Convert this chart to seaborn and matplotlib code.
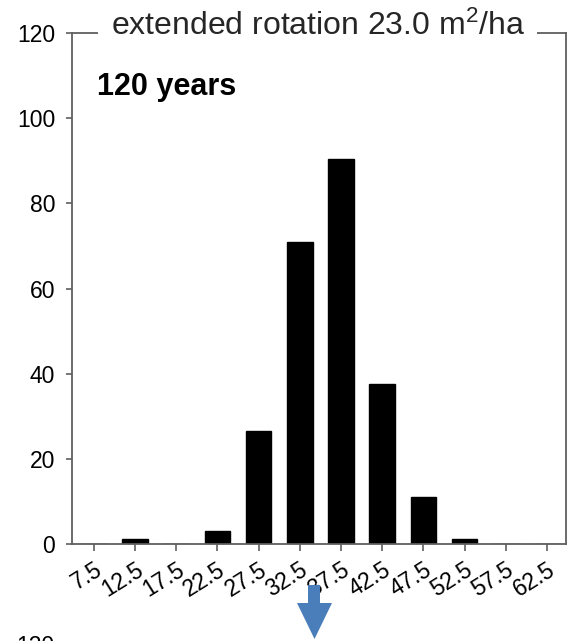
import matplotlib
matplotlib.use("Agg")
import matplotlib.pyplot as plt
from matplotlib.patches import Polygon
from matplotlib.transforms import offset_copy
import seaborn as sns
import pandas as pd

# diameter classes (cm) and number of stems per class
diameter_classes = ["7.5", "12.5", "17.5", "22.5", "27.5", "32.5",
                    "37.5", "42.5", "47.5", "52.5", "57.5", "62.5"]
stem_counts = [0, 1.2, 0, 3, 26.5, 71, 90.5, 37.5, 11, 1.2, 0, 0]
y_ticks = [0, 20, 40, 60, 80, 100, 120]

sns.set_style("ticks")
plt.rcParams["font.family"] = ["Liberation Sans", "DejaVu Sans"]
plt.rcParams["mathtext.fontset"] = "custom"
plt.rcParams["mathtext.rm"] = "Liberation Sans"
plt.rcParams["mathtext.default"] = "regular"

df = pd.DataFrame({"diameter": diameter_classes, "stems": stem_counts})

fig = plt.figure(figsize=(5.67, 6.41), dpi=100)
ax = fig.add_axes([0.127, 0.151, 0.871, 0.7975])

sns.barplot(data=df, x="diameter", y="stems", order=diameter_classes,
            color="black", saturation=1, width=0.62, ax=ax)
for p in ax.patches:
    p.set_edgecolor("black")
    p.set_facecolor("black")

ax.set_xlim(-0.53, 11.46)
ax.set_ylim(0, 120)
ax.set_yticks(y_ticks)
ax.set_xlabel("")
ax.set_ylabel("")

for s in ax.spines.values():
    s.set_color("#5f5f5f")
    s.set_linewidth(1.3)
    s.set_visible(True)

ax.tick_params(axis="y", direction="out", length=4, width=1.2, color="#5f5f5f",
               labelsize=16.5, pad=8, labelcolor="black")
ax.tick_params(axis="x", direction="out", length=5, width=1.2, color="#5f5f5f",
               labelsize=16.5, pad=5, labelcolor="black")
for lab in ax.get_xticklabels():
    lab.set_rotation(32)
    lab.set_ha("right")
    lab.set_va("top")
    lab.set_rotation_mode("anchor")

# panel title sitting on the top frame line
title_tr = offset_copy(ax.transAxes, fig=fig, x=0, y=-2, units="dots")
ax.text(0.498, 1.0, "extended rotation 23.0 m$^{2}$/ha", transform=title_tr,
        ha="center", va="baseline", fontsize=23, color="#262626", zorder=5,
        clip_on=False,
        bbox=dict(facecolor="white", edgecolor="none", pad=9))

ax.text(0.05, 0.895, "120 years", transform=ax.transAxes, ha="left",
        va="center", fontsize=22, fontweight="bold", color="black")

# downward arrow pointing to the next panel
W, H = 567, 641
arrow_px = [(308, 585), (320, 585), (320, 603), (332, 603), (314.5, 639),
            (297, 603), (308, 603)]
arrow = Polygon([(x / W, 1 - y / H) for x, y in arrow_px], closed=True,
                transform=fig.transFigure, facecolor="#4a7ebb",
                edgecolor="none")
fig.patches.append(arrow)

# top of the next panel's axis label
fig.text(54 / W, 1 - 635 / H, "120", ha="right", va="top", fontsize=16.5,
         color="black")

fig.savefig("out.png", dpi=100)
